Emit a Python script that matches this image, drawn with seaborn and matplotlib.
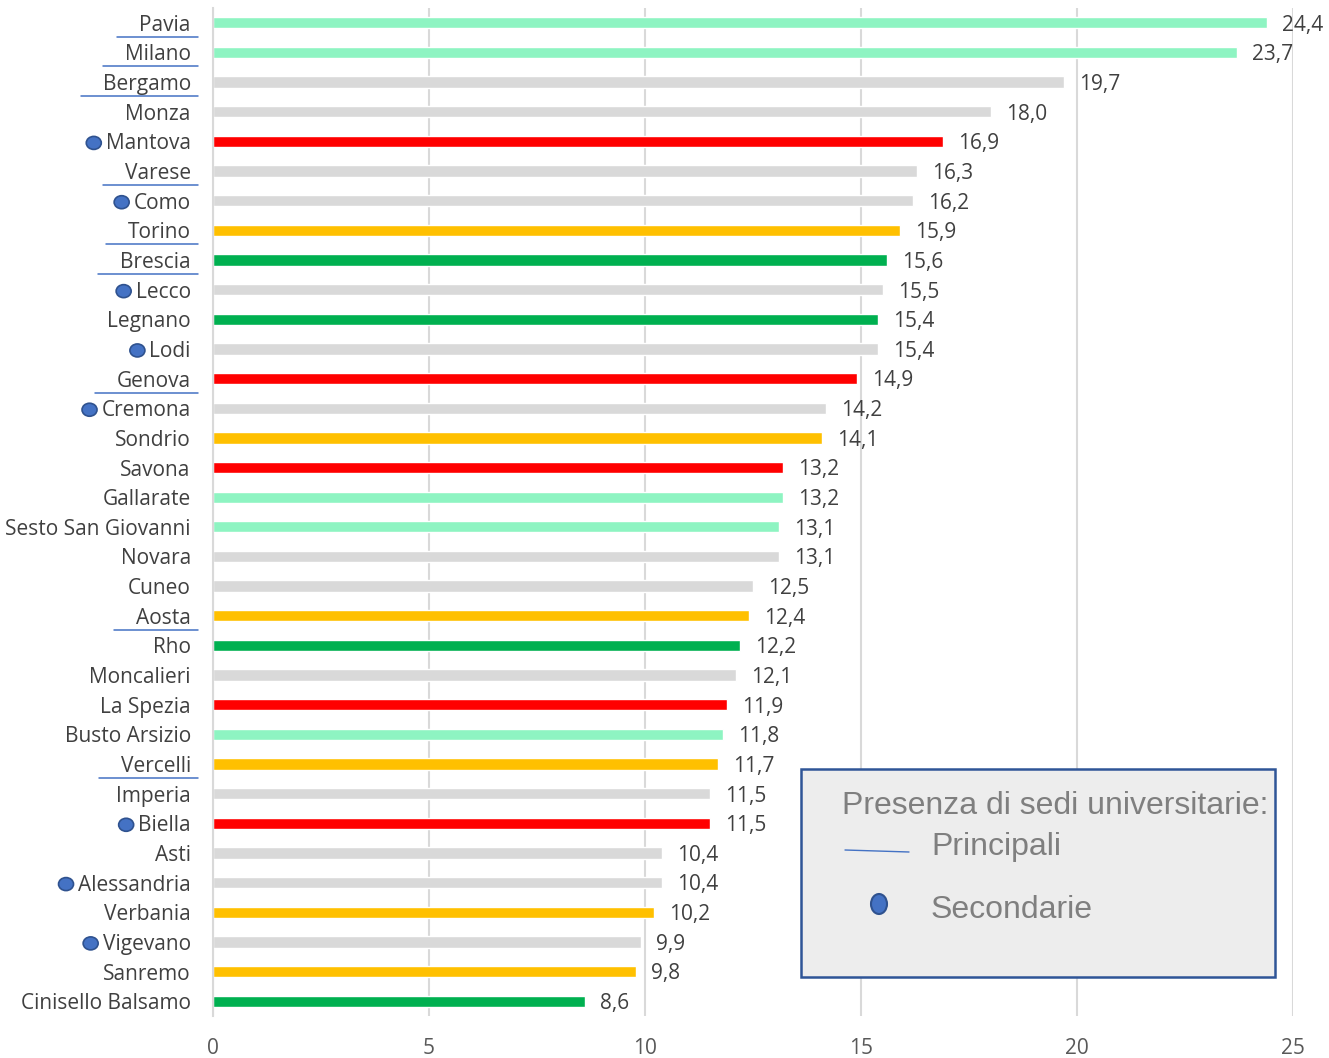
import pandas as pd
import seaborn as sns
import matplotlib.pyplot as plt
from matplotlib.patches import Rectangle, Ellipse
from matplotlib.lines import Line2D

# data
cities = ["Pavia", "Milano", "Bergamo", "Monza", "Mantova", "Varese", "Como", "Torino",
          "Brescia", "Lecco", "Legnano", "Lodi", "Genova", "Cremona", "Sondrio", "Savona",
          "Gallarate", "Sesto San Giovanni", "Novara", "Cuneo", "Aosta", "Rho", "Moncalieri",
          "La Spezia", "Busto Arsizio", "Vercelli", "Imperia", "Biella", "Asti", "Alessandria",
          "Verbania", "Vigevano", "Sanremo", "Cinisello Balsamo"]
values = [24.4, 23.7, 19.7, 18.0, 16.9, 16.3, 16.2, 15.9, 15.6, 15.5, 15.4, 15.4, 14.9, 14.2,
          14.1, 13.2, 13.2, 13.1, 13.1, 12.5, 12.4, 12.2, 12.1, 11.9, 11.8, 11.7, 11.5, 11.5,
          10.4, 10.4, 10.2, 9.9, 9.8, 8.6]
groups = ["mint", "mint", "grey", "grey", "red", "grey", "grey", "amber", "green", "grey",
          "green", "grey", "red", "grey", "amber", "red", "mint", "mint", "grey", "grey",
          "amber", "green", "grey", "red", "mint", "amber", "grey", "red", "grey", "grey",
          "amber", "grey", "amber", "green"]
principali = ["Pavia", "Milano", "Bergamo", "Varese", "Torino", "Brescia", "Genova", "Aosta", "Vercelli"]
secondarie = ["Mantova", "Como", "Lecco", "Lodi", "Cremona", "Biella", "Alessandria", "Vigevano"]

group_colors = {"mint": "#8EF4C2", "grey": "#D9D9D9", "red": "#FF0000",
                "amber": "#FFC000", "green": "#00B050"}

df = pd.DataFrame({"city": cities, "value": values, "group": groups})

sns.set_style("white")
plt.rcParams["font.family"] = ["Open Sans", "DejaVu Sans"]

W, H = 1329, 1058
fig = plt.figure(figsize=(W / 100, H / 100), dpi=100)
ax = fig.add_axes([213 / W, 1 - 1016 / H, (1293 - 213) / W, (1016 - 8) / H])

sns.barplot(data=df, y="city", x="value", hue="city",
            palette=[group_colors[g] for g in groups], width=0.38,
            legend=False, ax=ax, saturation=1)

ax.set_xlim(0, 25)
ax.set_ylim(len(cities) - 0.5, -0.5)
ax.set_xticks(range(0, 26, 5))
ax.xaxis.grid(True, color="#D9D9D9", lw=1.5)
ax.set_axisbelow(True)
for s in ["top", "right", "bottom"]:
    ax.spines[s].set_visible(False)
ax.spines["left"].set_color("#D9D9D9")
ax.spines["left"].set_linewidth(1.5)
ax.set_xlabel("")
ax.set_ylabel("")
ax.tick_params(axis="y", length=0, pad=16, labelsize=15, labelcolor="#404040")
ax.tick_params(axis="x", length=0, pad=16, labelsize=15, labelcolor="#595959")

for i, v in enumerate(values):
    ax.text(v + 0.35, i + 0.08, f"{v:.1f}".replace(".", ","), va="center", ha="left",
            fontsize=15, color="#404040")

# hand-drawn markers next to the city names
fig.canvas.draw()
renderer = fig.canvas.get_renderer()
inv = fig.transFigure.inverted()
for lab in ax.get_yticklabels():
    name = lab.get_text()
    bb = lab.get_window_extent(renderer)
    if name in principali:
        (x0, y0), (x1, _) = inv.transform([(bb.x0 - 22, bb.y0 - 1), (bb.x1 + 7, bb.y0 - 1)])
        fig.add_artist(Line2D([x0, x1], [y0, y0], color="#4472C4", lw=1.1))
    elif name in secondarie:
        cx, cy = inv.transform((bb.x0 - 12, (bb.y0 + bb.y1) / 2 + 1))
        fig.add_artist(Ellipse((cx, cy), 15 / W, 13 / H, facecolor="#4472C4",
                               edgecolor="#2F528F", lw=1.2))

# legend box
fig.add_artist(Rectangle((801 / W, 1 - 977 / H), (1275 - 801) / W, (977 - 769) / H,
                         facecolor="#EDEDED", edgecolor="#2F5597", lw=1.8))
fig.text(842 / W, 1 - 806 / H, "Presenza di sedi universitarie:", fontsize=23,
         color="#7F7F7F", va="center", family="Liberation Sans")
fig.text(931 / W, 1 - 847 / H, "Principali", fontsize=23, color="#7F7F7F",
         va="center", family="Liberation Sans")
fig.text(931 / W, 1 - 910 / H, "Secondarie", fontsize=23, color="#7F7F7F",
         va="center", family="Liberation Sans")
fig.add_artist(Line2D([845 / W, 909 / W], [1 - 850 / H, 1 - 852 / H], color="#4472C4", lw=1))
fig.add_artist(Ellipse((879 / W, 1 - 904 / H), 16 / W, 20 / H, facecolor="#4472C4",
                       edgecolor="#2F528F", lw=1.5))

fig.savefig("out.png", dpi=100)
